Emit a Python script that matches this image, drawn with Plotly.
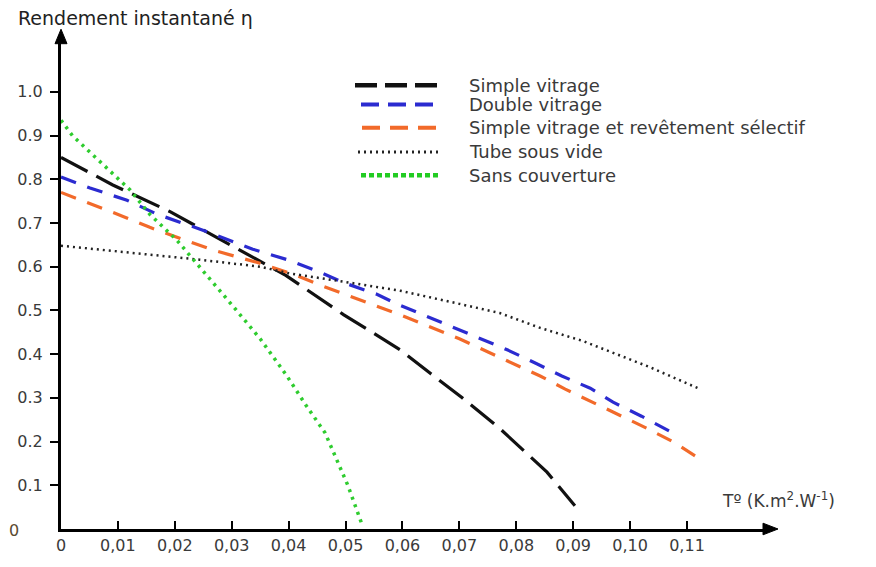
import plotly.graph_objects as go

# ---------------- data ----------------
x_simple = [0, 0.0091, 0.019, 0.029, 0.0395, 0.0497, 0.0596, 0.065, 0.0705, 0.0771, 0.0854, 0.0903]
y_simple = [0.85, 0.787, 0.727, 0.655, 0.58, 0.49, 0.41, 0.355, 0.30, 0.23, 0.13, 0.053]

x_double = [0, 0.0051, 0.0116, 0.0169, 0.0257, 0.0337, 0.040, 0.045, 0.050, 0.0555, 0.059,
            0.065, 0.0716, 0.0784, 0.0836, 0.088, 0.093, 0.097, 0.102, 0.107, 0.1082]
y_double = [0.805, 0.78, 0.752, 0.72, 0.68, 0.64, 0.615, 0.59, 0.562, 0.537, 0.515,
            0.483, 0.447, 0.41, 0.378, 0.35, 0.322, 0.29, 0.258, 0.224, 0.215]

x_selectif = [0, 0.0056, 0.0109, 0.0156, 0.0209, 0.0267, 0.0344, 0.0408, 0.0455, 0.0503, 0.0548,
              0.0596, 0.07, 0.0794, 0.0842, 0.0886, 0.0935, 0.0982, 0.103, 0.1075, 0.1123]
y_selectif = [0.77, 0.742, 0.715, 0.69, 0.665, 0.638, 0.61, 0.583, 0.558, 0.535, 0.512,
              0.49, 0.435, 0.38, 0.35, 0.32, 0.29, 0.26, 0.23, 0.20, 0.16]

x_tube = [0, 0.01, 0.0244, 0.035, 0.04, 0.05, 0.0596, 0.07, 0.0771, 0.0842, 0.0917, 0.1035, 0.1123]
y_tube = [0.648, 0.635, 0.616, 0.60, 0.585, 0.565, 0.545, 0.515, 0.494, 0.46, 0.43, 0.37, 0.32]

x_sans = [0, 0.002, 0.0121, 0.0156, 0.0204, 0.0244, 0.0302, 0.035, 0.0397, 0.0432, 0.0464, 0.0504, 0.0529]
y_sans = [0.935, 0.9, 0.776, 0.72, 0.66, 0.60, 0.51, 0.435, 0.35, 0.28, 0.22, 0.10, 0.01]

series_names = ["Simple vitrage", "Double vitrage", "Simple vitrage et revêtement sélectif",
                "Tube sous vide", "Sans couverture"]

x_tickvals = [0, 0.01, 0.02, 0.03, 0.04, 0.05, 0.06, 0.07, 0.08, 0.09, 0.10, 0.11]
x_ticktext = ["0", "0,01", "0,02", "0,03", "0,04", "0,05", "0,06", "0,07", "0,08", "0,09", "0,10", "0,11"]
y_tickvals = [0.1, 0.2, 0.3, 0.4, 0.5, 0.6, 0.7, 0.8, 0.9, 1.0]
y_ticktext = ["0.1", "0.2", "0.3", "0.4", "0.5", "0.6", "0.7", "0.8", "0.9", "1.0"]

# ---------------- styles ----------------
FONT = "DejaVu Sans"
TXT = "#3a3a3a"
styles = [
    dict(color="#111111", width=3.2, dash="30px,10px"),
    dict(color="#2b2bd0", width=3.2, dash="16px,12px"),
    dict(color="#f26a2a", width=3.2, dash="16px,12px"),
    dict(color="#222222", width=2.5, dash="2px,4px"),
    dict(color="#2ecc2e", width=3.5, dash="3px,5px"),
]
legend_styles = [
    dict(color="#111111", width=4.5, dash="22px,8px"),
    dict(color="#2b2bd0", width=4, dash="18px,9px"),
    dict(color="#f26a2a", width=4, dash="18px,10px"),
    dict(color="#222222", width=3, dash="2px,4px"),
    dict(color="#22cc22", width=4.5, dash="5px,3px"),
]

fig = go.Figure()
for xs, ys, name, st in zip([x_simple, x_double, x_selectif, x_tube, x_sans],
                            [y_simple, y_double, y_selectif, y_tube, y_sans],
                            series_names, styles):
    fig.add_trace(go.Scatter(x=xs, y=ys, mode="lines", name=name, line=st,
                             showlegend=False, cliponaxis=False))

W, H = 876, 567
ML, MR, MT, MB = 61, 106, 35, 21
PW, PH = W - ML - MR, H - MT - MB
X_MAX = 0.11 * PW / 626.0
Y_MAX = 1.13


def px(xp):
    return (xp - ML) / PW


def py(yp):
    return (H - MB - yp) / PH


shapes = []
annotations = []
# manual legend
leg_rows = [87, 107, 131, 156, 180]
leg_x0 = [355, 361, 362, 358, 361]
for name, st, row, x0 in zip(series_names, legend_styles, leg_rows, leg_x0):
    shapes.append(dict(type="line", xref="paper", yref="paper",
                       x0=px(x0), x1=px(440), y0=py(row), y1=py(row), line=st))
    annotations.append(dict(xref="paper", yref="paper", x=px(467), y=py(row),
                            xanchor="left", yanchor="middle", showarrow=False,
                            text=name, font=dict(family=FONT, size=18, color=TXT)))

# axis titles
annotations.append(dict(xref="paper", yref="paper", x=px(16), y=py(17), xanchor="left",
                        yanchor="middle", showarrow=False, text="Rendement instantané η",
                        font=dict(family=FONT, size=19, color="#222")))
annotations.append(dict(xref="paper", yref="paper", x=px(720), y=py(516), xanchor="left",
                        yanchor="middle", showarrow=False,
                        text="Tº (K.m<sup>2</sup>.W<sup>-1</sup>)",
                        font=dict(family=FONT, size=17, color=TXT)))
# y "0" label
annotations.append(dict(xref="paper", yref="paper", x=px(14), y=py(548), xanchor="center",
                        yanchor="middle", showarrow=False, text="0",
                        font=dict(family=FONT, size=16, color="#5a4a30")))

# axis arrowheads (filled triangles)
ax_end = px(778)
shapes.append(dict(type="path", xref="paper", yref="paper",
                   path=f"M {px(763)} {py(540)} L {ax_end} 0 L {px(763)} {py(552)} Z",
                   fillcolor="#000", line=dict(color="#000", width=1)))
shapes.append(dict(type="path", xref="paper", yref="paper",
                   path=f"M {px(55)} {py(44)} L 0 {py(29)} L {px(67)} {py(44)} Z",
                   fillcolor="#000", line=dict(color="#000", width=1)))
shapes.append(dict(type="line", xref="paper", yref="paper", x0=1, x1=px(765), y0=0, y1=0,
                   line=dict(color="#000", width=2.5)))

fig.update_layout(
    width=W, height=H,
    margin=dict(l=ML, r=MR, t=MT, b=MB),
    plot_bgcolor="white", paper_bgcolor="white",
    font=dict(family=FONT, size=16, color=TXT),
    shapes=shapes, annotations=annotations,
    showlegend=False,
    xaxis=dict(range=[0, X_MAX], tickvals=x_tickvals, ticktext=x_ticktext,
               ticks="inside", ticklen=8, tickwidth=1.5, tickcolor="#000",
               showline=True, linecolor="#000", linewidth=2.5, showgrid=False,
               zeroline=False, tickfont=dict(family=FONT, size=16, color=TXT)),
    yaxis=dict(range=[0, Y_MAX], tickvals=y_tickvals, ticktext=y_ticktext,
               ticks="outside", ticklen=8, tickwidth=2, tickcolor="#000",
               showline=True, linecolor="#000", linewidth=3, showgrid=False,
               zeroline=False, ticklabelstandoff=4,
               tickfont=dict(family=FONT, size=16, color=TXT)),
)

fig.write_html("out.html")
